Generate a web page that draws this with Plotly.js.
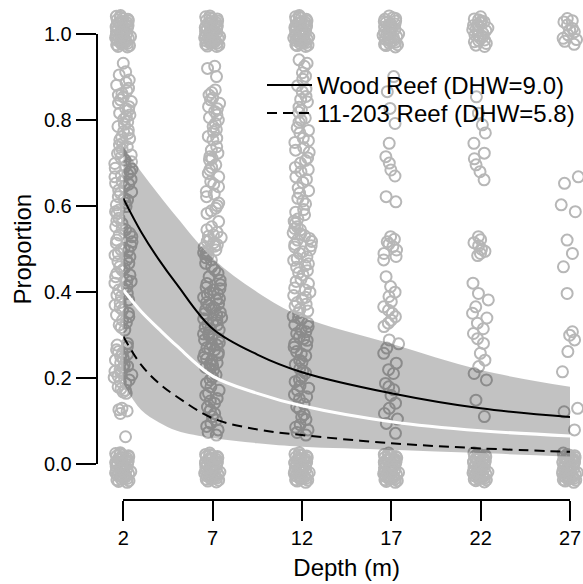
<!DOCTYPE html>
<html><head><meta charset="utf-8">
<script src="https://cdn.plot.ly/plotly-3.0.1.min.js"></script>
<style>html,body{margin:0;padding:0;background:#fff}</style>
</head><body><div id="chart" style="width:583px;height:584px"></div>
<script>
// ---------------- data ----------------
const depths = [2, 7, 12, 17, 22, 27];
const xTickLabels = ['2', '7', '12', '17', '22', '27'];
const yTickVals = [0, 0.2, 0.4, 0.6, 0.8, 1.0];
const yTickLabels = ['0.0', '0.2', '0.4', '0.6', '0.8', '1.0'];

// fitted curves and confidence bands
const curveDepth = [2, 3, 4, 5, 7, 9.5, 12, 17, 22, 27];
const woodFit   = [0.618, 0.540, 0.475, 0.418, 0.315, 0.255, 0.214, 0.165, 0.130, 0.110];
const woodUpper = [0.738, 0.680, 0.626, 0.574, 0.479, 0.400, 0.343, 0.280, 0.219, 0.180];
const woodLower = [0.405, 0.355, 0.314, 0.275, 0.205, 0.165, 0.136, 0.099, 0.078, 0.066];
const reefFit   = [0.297, 0.231, 0.188, 0.157, 0.107, 0.081, 0.068, 0.049, 0.037, 0.029];
const reefUpper = [0.405, 0.355, 0.314, 0.275, 0.205, 0.165, 0.136, 0.099, 0.078, 0.066];
const reefLower = [0.188, 0.126, 0.097, 0.078, 0.061, 0.049, 0.041, 0.034, 0.026, 0.018];

// observed proportions (points), per depth: cluster near 1, intermediate, cluster near 0
const top2 = [1.043,1.039,1.036,1.034,1.031,1.029,1.027,1.024,1.022,1.020,1.018,1.016,1.013,1.011,1.009,1.007,1.005,1.003,1.001,0.999,0.997,0.995,0.993,0.991,0.989,0.987,0.985,0.983,0.981,0.979,0.977,0.975,0.973,0.971,0.970,1.041,1.026,1.014,1.002,0.990,0.978,1.033,1.019,1.006,0.994];
const top7 = [1.042,1.038,1.035,1.032,1.030,1.027,1.025,1.023,1.020,1.017,1.015,1.012,1.010,1.008,1.006,1.004,1.002,1.000,0.998,0.996,0.994,0.992,0.990,0.988,0.986,0.984,0.982,0.980,0.978,0.976,0.974,0.972,0.971,1.040,1.028,1.016,1.003,0.991,0.979,1.036,1.021,1.007,0.995,0.983,1.011];
const top12 = [1.043,1.040,1.037,1.033,1.030,1.028,1.025,1.022,1.019,1.017,1.014,1.012,1.010,1.007,1.005,1.003,1.001,0.998,0.996,0.993,0.991,0.989,0.987,0.985,0.982,0.980,0.978,0.975,0.973,0.971,1.039,1.027,1.015,1.004,0.992,0.981,1.034,1.020,1.008,0.997,0.985,0.974,1.024,1.009,0.988];
const top17 = [1.042,1.038,1.034,1.030,1.027,1.024,1.021,1.018,1.015,1.012,1.009,1.006,1.003,1.000,0.997,0.994,0.991,0.988,0.985,0.982,0.979,0.976,0.973,0.970,1.036,1.023,1.011,0.999,0.987,0.975,1.029,1.016,1.004,0.993,0.981];
const top22 = [1.040,1.035,1.030,1.026,1.022,1.018,1.014,1.010,1.006,1.002,0.998,0.994,0.990,0.986,0.982,0.978,0.974,0.971,1.033,1.020,1.008,0.996,0.984,1.028,1.012];
const top27 = [1.036,1.028,1.021,1.013,1.005,0.998,0.990,0.983,0.976,1.031,1.009,0.987];

const mid2 = [0.932,0.912,0.893,0.881,0.874,0.868,0.862,0.854,0.847,0.839,0.831,0.823,0.816,0.808,0.802,0.796,0.785,0.777,0.769,0.761,0.754,0.746,0.738,0.732,0.726,0.719,0.713,0.707,0.699,0.692,0.686,0.680,0.674,0.668,0.662,0.657,0.651,0.645,0.637,0.630,0.622,0.614,0.607,0.599,0.591,0.583,0.572,0.560,0.552,0.545,0.537,0.529,0.521,0.514,0.508,0.502,0.496,0.490,0.482,0.475,0.467,0.459,0.451,0.444,0.436,0.428,0.421,0.413,0.405,0.397,0.390,0.382,0.370,0.359,0.351,0.343,0.335,0.324,0.312,0.281,0.273,0.266,0.262,0.256,0.250,0.242,0.236,0.231,0.225,0.219,0.213,0.208,0.202,0.196,0.188,0.180,0.172,0.165,0.130,0.124,0.118,0.064,
  0.905,0.887,0.858,0.843,0.827,0.812,0.790,0.773,0.757,0.742,0.722,0.703,0.688,0.671,0.653,0.633,0.618,0.603,0.587,0.566,0.548,0.533,0.517,0.499,0.486,0.471,0.455,0.440,0.425,0.409,0.393,0.376,0.364,0.347,0.329,0.318,0.277,0.259,0.246,0.228,0.216,0.205,0.192,0.176,0.168,0.127];
const mid7 = [0.920,0.901,0.870,0.858,0.847,0.839,0.831,0.820,0.812,0.800,0.785,0.773,0.762,0.754,0.738,0.723,0.715,0.707,0.696,0.684,0.668,0.657,0.645,0.634,0.622,0.607,0.595,0.583,0.564,0.552,0.545,0.533,0.527,0.521,0.515,0.510,0.504,0.498,0.492,0.486,0.475,0.459,0.444,0.428,0.417,0.411,0.405,0.399,0.394,0.388,0.382,0.376,0.370,0.364,0.359,0.353,0.347,0.341,0.335,0.329,0.324,0.318,0.312,0.306,0.300,0.295,0.289,0.283,0.277,0.271,0.266,0.260,0.254,0.248,0.242,0.236,0.231,0.225,0.219,0.208,0.196,0.180,0.165,0.153,0.142,0.126,0.111,0.095,0.080,0.068,
  0.925,0.864,0.851,0.826,0.806,0.792,0.778,0.758,0.730,0.711,0.690,0.676,0.651,0.628,0.601,0.589,0.539,0.530,0.518,0.507,0.495,0.489,0.480,0.467,0.452,0.436,0.420,0.408,0.396,0.385,0.373,0.362,0.350,0.338,0.326,0.315,0.303,0.292,0.280,0.268,0.257,0.245,0.233,0.222,0.202,0.188,0.172,0.160,0.147,0.133,0.118,0.103,0.088,0.074];
const mid12 = [0.940,0.925,0.910,0.895,0.880,0.866,0.855,0.842,0.830,0.818,0.805,0.795,0.782,0.770,0.758,0.748,0.736,0.725,0.712,0.700,0.690,0.680,0.668,0.655,0.642,0.630,0.618,0.605,0.592,0.580,0.570,0.560,0.552,0.545,0.538,0.531,0.525,0.518,0.511,0.505,0.498,0.490,0.482,0.474,0.466,0.458,0.450,0.440,0.430,0.420,0.410,0.400,0.392,0.384,0.376,0.368,0.360,0.352,0.344,0.336,0.328,0.320,0.312,0.304,0.296,0.288,0.280,0.272,0.262,0.252,0.242,0.232,0.222,0.212,0.202,0.192,0.182,0.172,0.162,0.152,0.140,0.128,0.116,0.104,0.092,0.080,0.068,
  0.932,0.902,0.872,0.848,0.824,0.800,0.776,0.752,0.730,0.706,0.685,0.662,0.636,0.612,0.586,0.565,0.548,0.535,0.521,0.508,0.494,0.478,0.462,0.445,0.425,0.405,0.388,0.372,0.356,0.340,0.324,0.308,0.292,0.276,0.257,0.237,0.217,0.197,0.177,0.157,0.134,0.110,0.086,0.074];
const mid17 = [0.901,0.866,0.827,0.792,0.746,0.715,0.700,0.684,0.670,0.622,0.610,0.529,0.523,0.517,0.512,0.506,0.498,0.490,0.483,0.475,0.436,0.413,0.400,0.390,0.378,0.366,0.358,0.351,0.343,0.335,0.328,0.320,0.289,0.280,0.270,0.258,0.235,0.220,0.211,0.188,0.180,0.173,0.160,0.142,0.130,0.118,0.105,0.095,0.072];
const mid22 = [0.854,0.816,0.789,0.770,0.746,0.723,0.710,0.696,0.680,0.661,0.529,0.522,0.515,0.508,0.500,0.495,0.490,0.485,0.421,0.397,0.382,0.366,0.351,0.340,0.328,0.315,0.304,0.292,0.281,0.258,0.242,0.227,0.211,0.196,0.149,0.111];
const mid27 = [0.668,0.653,0.603,0.587,0.521,0.490,0.459,0.397,0.308,0.300,0.289,0.262,0.215,0.130,0.122,0.080];

const bot2 = [0.027,0.024,0.021,0.019,0.016,0.014,0.011,0.009,0.006,0.004,0.002,-0.001,-0.003,-0.005,-0.008,-0.010,-0.012,-0.015,-0.017,-0.019,-0.022,-0.024,-0.026,-0.029,-0.031,-0.033,-0.036,-0.038,-0.040,-0.042,0.025,0.013,0.001,-0.011,-0.023,-0.035,0.020,0.008,-0.004,-0.016,-0.028,0.017,-0.007,-0.020,0.005];
const bot7 = [0.026,0.023,0.020,0.018,0.015,0.012,0.010,0.007,0.005,0.002,0.000,-0.002,-0.004,-0.007,-0.009,-0.011,-0.014,-0.016,-0.018,-0.021,-0.023,-0.025,-0.028,-0.030,-0.032,-0.035,-0.037,-0.039,-0.041,0.022,0.011,-0.001,-0.013,-0.024,-0.034,0.018,0.006,-0.006,-0.017,-0.027,0.014,-0.008,-0.031,0.003,-0.019];
const bot12 = [0.027,0.024,0.022,0.019,0.016,0.013,0.011,0.008,0.005,0.003,0.001,-0.002,-0.004,-0.006,-0.009,-0.011,-0.013,-0.016,-0.018,-0.020,-0.023,-0.025,-0.027,-0.030,-0.032,-0.034,-0.037,-0.039,-0.042,0.021,0.009,-0.003,-0.014,-0.026,-0.036,0.017,0.004,-0.008,-0.019,-0.029,0.012,-0.012,-0.033,0.006,-0.021];
const bot17 = [0.026,0.023,0.021,0.018,0.015,0.013,0.010,0.008,0.005,0.003,0.000,-0.002,-0.005,-0.007,-0.010,-0.012,-0.014,-0.017,-0.019,-0.021,-0.024,-0.026,-0.028,-0.031,-0.033,-0.035,-0.038,-0.040,-0.042,0.020,0.010,-0.002,-0.013,-0.025,-0.036,0.016,0.004,-0.008,-0.018,-0.029,0.012,-0.011,-0.034,0.007,-0.022];
const bot22 = [0.027,0.024,0.021,0.018,0.016,0.013,0.010,0.008,0.005,0.002,0.000,-0.003,-0.005,-0.008,-0.010,-0.012,-0.015,-0.017,-0.020,-0.022,-0.024,-0.027,-0.029,-0.031,-0.034,-0.036,-0.038,-0.041,0.022,0.011,-0.001,-0.013,-0.024,-0.035,0.017,0.005,-0.007,-0.018,-0.028,0.013,-0.010,-0.032,0.006,-0.020];
const bot27 = [0.026,0.023,0.020,0.017,0.015,0.012,0.009,0.007,0.004,0.002,-0.001,-0.003,-0.006,-0.008,-0.011,-0.013,-0.016,-0.018,-0.020,-0.023,-0.025,-0.028,-0.030,-0.032,-0.035,-0.037,-0.039,-0.042,0.021,0.010,-0.002,-0.014,-0.025,-0.036,0.016,0.004,-0.009,-0.019,-0.030,0.012,-0.011,-0.033,0.006,-0.021];

const pointsByDepth = [
  [top2, mid2, bot2], [top7, mid7, bot7], [top12, mid12, bot12],
  [top17, mid17, bot17], [top22, mid22, bot22], [top27, mid27, bot27]
];

// ---------------- layout geometry (pixels) ----------------
const W = 583, H = 584;
const PX = {xLo: 123.3, xHi: 570, yLo: 464.3, yHi: 34, xAxisLine: 500, yAxisLine: 96.7};
const xPerPx = (27 - 2) / (PX.xHi - PX.xLo);
const yPerPx = (1 - 0) / (PX.yLo - PX.yHi);
const FONT = 'Liberation Sans, Arial, Helvetica, sans-serif';

const ptColor = '#b7b7b7';
const groupWidth = [0.95, 1.1, 0.95];   // spread of jitter for [near 1, intermediate, near 0]
const traces = [];
depths.forEach((d, i) => {
  pointsByDepth[i].forEach((vals, k) => {
    traces.push({
      type: 'box', x: vals.map(() => d), y: vals,
      xaxis: 'x', yaxis: 'y',
      boxpoints: 'all', jitter: 1, pointpos: 0, width: groupWidth[k],
      fillcolor: 'rgba(0,0,0,0)', line: {width: 0, color: 'rgba(0,0,0,0)'},
      marker: {symbol: 'circle-open', size: 11, color: ptColor, line: {width: 2, color: ptColor}},
      hoverinfo: 'skip', showlegend: false
    });
  });
});

const band = 'rgba(0,0,0,0.24)';
const common = {xaxis: 'x2', yaxis: 'y2', x: curveDepth, mode: 'lines', hoverinfo: 'skip'};
traces.push(Object.assign({}, common, {y: woodLower, line: {width: 0, shape: 'spline'}, showlegend: false}));
traces.push(Object.assign({}, common, {y: woodUpper, line: {width: 0, shape: 'spline'}, fill: 'tonexty', fillcolor: band, showlegend: false}));
traces.push(Object.assign({}, common, {y: reefLower, line: {width: 0, shape: 'spline'}, showlegend: false}));
traces.push(Object.assign({}, common, {y: reefUpper, line: {width: 0, shape: 'spline'}, fill: 'tonexty', fillcolor: band, showlegend: false}));
traces.push(Object.assign({}, common, {y: woodLower, line: {width: 3, color: '#ffffff', shape: 'spline'}, showlegend: false}));
traces.push(Object.assign({}, common, {y: woodFit, name: 'Wood Reef (DHW=9.0)', legend: 'legend', line: {width: 2, color: '#000', shape: 'spline'}, showlegend: true}));
traces.push(Object.assign({}, common, {y: reefFit, name: '11-203 Reef (DHW=5.8)', legend: 'legend2', line: {width: 2, color: '#000', dash: '10px,6px', shape: 'spline'}, showlegend: true}));

const axisCommon = {
  showgrid: false, zeroline: false, showline: true, linecolor: '#000', linewidth: 2,
  ticks: 'outside', ticklen: 20, tickwidth: 2, tickcolor: '#000',
  tickfont: {family: FONT, size: 20, color: '#000'}, anchor: 'free', automargin: false
};
const legendCommon = {xanchor: 'left', yanchor: 'top', itemwidth: 45, traceorder: 'normal',
  bgcolor: 'rgba(0,0,0,0)', borderwidth: 0, font: {family: FONT, size: 24, color: '#000'}};

const layout = {
  width: W, height: H,
  margin: {l: 0, r: 0, t: 0, b: 0, pad: 0},
  paper_bgcolor: '#fff', plot_bgcolor: 'rgba(0,0,0,0)',
  showlegend: true,
  legend: Object.assign({}, legendCommon, {x: (320 - 58) / W, y: 1 - 63 / H}),
  legend2: Object.assign({}, legendCommon, {x: (320 - 58) / W, y: 1 - 91 / H}),
  xaxis: {domain: [0, 1], range: [2 - PX.xLo * xPerPx, 27 + (W - PX.xHi) * xPerPx], visible: false, fixedrange: true},
  yaxis: {domain: [0, 1], range: [-(H - PX.yLo) * yPerPx, 1 + PX.yHi * yPerPx], visible: false, fixedrange: true},
  xaxis2: Object.assign({}, axisCommon, {
    domain: [PX.xLo / W, PX.xHi / W], range: [2, 27], position: (H - PX.xAxisLine) / H,
    tickvals: depths, ticktext: xTickLabels,
    title: {text: 'Depth (m)', font: {family: FONT, size: 24, color: '#000'}, standoff: 10}
  }),
  yaxis2: Object.assign({}, axisCommon, {
    domain: [(H - PX.yLo) / H, (H - PX.yHi) / H], range: [0, 1], position: PX.yAxisLine / W,
    tickvals: yTickVals, ticktext: yTickLabels,
    title: {text: 'Proportion', font: {family: FONT, size: 24, color: '#000'}, standoff: 4}
  })
};

Plotly.newPlot('chart', traces, layout, {displayModeBar: false, staticPlot: true});
</script>
</body></html>
